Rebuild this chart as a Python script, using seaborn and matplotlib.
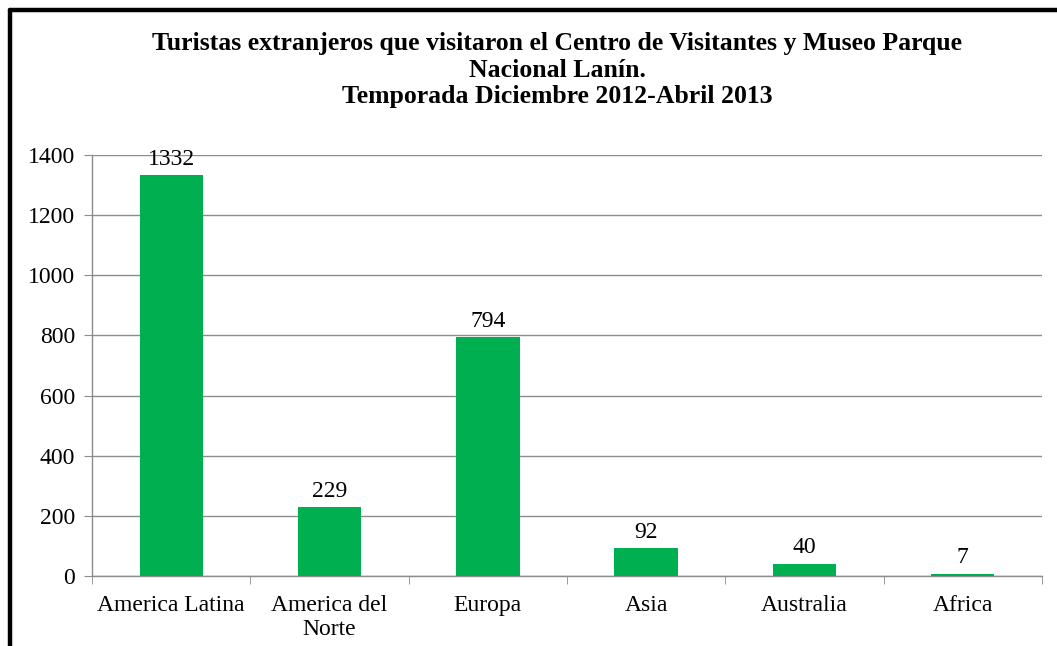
import matplotlib
matplotlib.use("Agg")
import matplotlib.pyplot as plt
import seaborn as sns
import pandas as pd
from matplotlib.lines import Line2D

regions = ["America Latina", "America del\nNorte", "Europa", "Asia", "Australia", "Africa"]
visitors = [1332, 229, 794, 92, 40, 7]
title_lines = [
    "Turistas extranjeros que visitaron el Centro de Visitantes y Museo Parque",
    "Nacional Lanín.",
    "Temporada Diciembre 2012-Abril 2013",
]

sns.set_style("white")
plt.rcParams["font.family"] = ["Liberation Serif", "DejaVu Serif"]
plt.rcParams["text.color"] = "black"
plt.rcParams["xtick.labelcolor"] = "black"
plt.rcParams["ytick.labelcolor"] = "black"

df = pd.DataFrame({"region": regions, "visitors": visitors})

fig = plt.figure(figsize=(10.57, 6.46), dpi=100)
ax = fig.add_axes([92 / 1057, 1 - 576 / 646, (1042 - 92) / 1057, (576 - 155) / 646])

sns.barplot(data=df, x="region", y="visitors", color="#00B050", saturation=1,
            width=0.4, linewidth=0, ax=ax, zorder=3)

ax.set_ylim(0, 1400)
ax.set_xlim(-0.5, len(regions) - 0.5)
ax.set_yticks(range(0, 1401, 200))
ax.yaxis.grid(True, color="#8c8c8c", linewidth=1, zorder=0)
ax.set_xlabel("")
ax.set_ylabel("")

for s in ["top", "right"]:
    ax.spines[s].set_visible(False)
for s in ["left", "bottom"]:
    ax.spines[s].set_color("#8c8c8c")
    ax.spines[s].set_linewidth(1)

# category boundary ticks on x axis
ax.set_xticks([i - 0.5 for i in range(len(regions) + 1)], minor=True)
ax.tick_params(axis="x", which="minor", length=6, color="#8c8c8c", direction="out", bottom=True)
ax.tick_params(axis="x", which="major", length=0, labelsize=17, pad=14)
ax.tick_params(axis="y", length=6, color="#8c8c8c", direction="out", left=True, labelsize=17, pad=6)
for lbl in ax.get_xticklabels():
    lbl.set_linespacing(1.15)

for i, v in enumerate(visitors):
    ax.annotate(str(v), (i, v), xytext=(0, 4), textcoords="offset points",
                ha="center", va="bottom", fontsize=17)

fig.text(557 / 1057, 1 - 32 / 646, "\n".join(title_lines), ha="center", va="top",
         fontsize=18.5, fontweight="bold", linespacing=1.2)

# outer frame (cropped on right and bottom)
fig.add_artist(Line2D([10 / 1057, 10 / 1057], [0, 1 - 10 / 646], color="black",
                      linewidth=3.2, transform=fig.transFigure))
fig.add_artist(Line2D([10 / 1057, 1], [1 - 10 / 646, 1 - 10 / 646], color="black",
                      linewidth=3.2, transform=fig.transFigure))

fig.savefig("out.png", dpi=100)
